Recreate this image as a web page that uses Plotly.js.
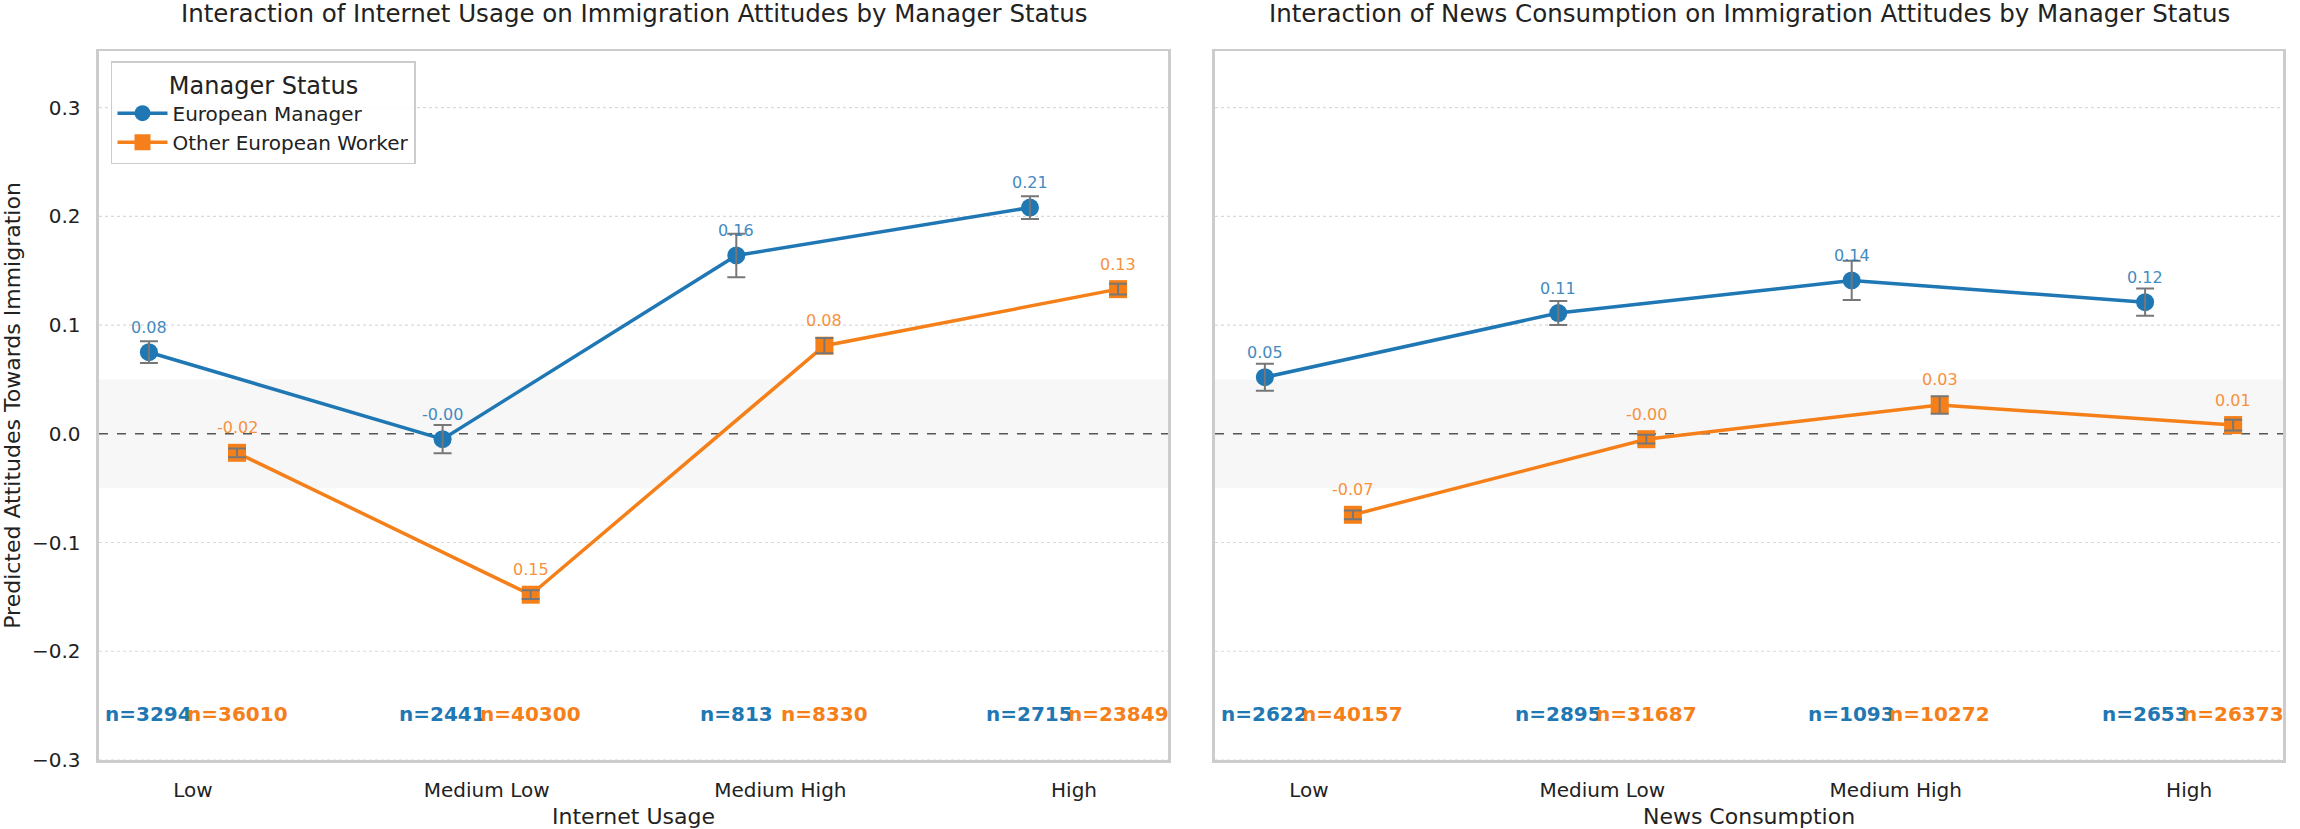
<!DOCTYPE html>
<html>
<head>
<meta charset="utf-8">
<script src="https://cdn.plot.ly/plotly-3.0.1.min.js"></script>
<style>html,body{margin:0;padding:0;background:#fff;}#chart{width:2300px;height:829px;}</style>
</head>
<body>
<div id="chart"></div>
<script>
const categories = ["Low", "Medium Low", "Medium High", "High"];
const seriesNames = ["European Manager", "Other European Worker"];

const internetManager = [0.075, -0.005, 0.164, 0.208];
const internetManagerErr = [0.010, 0.013, 0.020, 0.0105];
const internetManagerLabels = ["0.08", "-0.00", "0.16", "0.21"];
const internetManagerN = [3294, 2441, 813, 2715];

const internetWorker = [-0.0175, -0.148, 0.081, 0.133];
const internetWorkerErr = [0.004, 0.004, 0.007, 0.005];
const internetWorkerLabels = ["-0.02", "0.15", "0.08", "0.13"];
const internetWorkerN = [36010, 40300, 8330, 23849];

const newsManager = [0.052, 0.111, 0.141, 0.121];
const newsManagerErr = [0.0125, 0.011, 0.018, 0.0125];
const newsManagerLabels = ["0.05", "0.11", "0.14", "0.12"];
const newsManagerN = [2622, 2895, 1093, 2653];

const newsWorker = [-0.0745, -0.005, 0.0265, 0.008];
const newsWorkerErr = [0.004, 0.004, 0.008, 0.005];
const newsWorkerLabels = ["-0.07", "-0.00", "0.03", "0.01"];
const newsWorkerN = [40157, 31687, 10272, 26373];

const yTicks = [-0.3, -0.2, -0.1, 0.0, 0.1, 0.2, 0.3];

const BLUE = "#1f77b4";
const ORANGE = "#f5801a";
const FONT = "DejaVu Sans";
const DODGE = 0.15;
const idx = categories.map((c, i) => i);

const panels = [
  {xa: "x", ya: "y", m: internetManager, me: internetManagerErr, ml: internetManagerLabels, mn: internetManagerN,
   w: internetWorker, we: internetWorkerErr, wl: internetWorkerLabels, wn: internetWorkerN, legend: true},
  {xa: "x2", ya: "y2", m: newsManager, me: newsManagerErr, ml: newsManagerLabels, mn: newsManagerN,
   w: newsWorker, we: newsWorkerErr, wl: newsWorkerLabels, wn: newsWorkerN, legend: false}
];

const traces = [];
const annotations = [];

panels.forEach(p => {
  const xm = idx.map(i => i - DODGE);
  const xw = idx.map(i => i + DODGE);
  traces.push({
    type: "scatter", mode: "lines+markers", name: seriesNames[0], legendgroup: "m",
    showlegend: p.legend, x: xm, y: p.m, xaxis: p.xa, yaxis: p.ya,
    line: {color: BLUE, width: 3.5},
    marker: {symbol: "circle", size: 18, color: BLUE}
  });
  traces.push({
    type: "scatter", mode: "lines+markers", name: seriesNames[1], legendgroup: "w",
    showlegend: p.legend, x: xw, y: p.w, xaxis: p.xa, yaxis: p.ya,
    line: {color: ORANGE, width: 3.5},
    marker: {symbol: "square", size: 18, color: ORANGE}
  });
  [[xm, p.m, p.me], [xw, p.w, p.we]].forEach(([xs, ys, es]) => {
    traces.push({
      type: "scatter", mode: "markers", showlegend: false, hoverinfo: "skip",
      x: xs, y: ys, xaxis: p.xa, yaxis: p.ya,
      marker: {size: 1, color: "rgba(0,0,0,0)"},
      error_y: {type: "data", array: es, visible: true, color: "#777777", thickness: 2, width: 9}
    });
  });
  idx.forEach(i => {
    annotations.push({xref: p.xa, yref: p.ya, x: xm[i], y: p.m[i], yshift: 25, text: p.ml[i],
      showarrow: false, font: {family: FONT, size: 16, color: BLUE}, opacity: 0.85});
    annotations.push({xref: p.xa, yref: p.ya, x: xw[i], y: p.w[i], yshift: 25, text: p.wl[i],
      showarrow: false, font: {family: FONT, size: 16, color: ORANGE}, opacity: 0.85});
  });
  idx.forEach(i => {
    annotations.push({xref: p.xa, yref: p.ya, x: xm[i], y: -0.2575, text: "<b>n=" + p.mn[i] + "</b>",
      showarrow: false, font: {family: FONT, size: 20, color: BLUE}});
  });
  idx.forEach(i => {
    annotations.push({xref: p.xa, yref: p.ya, x: xw[i], y: -0.2575, text: "<b>n=" + p.wn[i] + "</b>",
      showarrow: false, font: {family: FONT, size: 20, color: ORANGE}});
  });
});

annotations.push({xref: "x domain", yref: "paper", x: 0.5, y: 0.9843, yanchor: "middle",
  text: "Interaction of Internet Usage on Immigration Attitudes by Manager Status",
  showarrow: false, font: {family: FONT, size: 24.5, color: "#222"}});
annotations.push({xref: "x2 domain", yref: "paper", x: 0.5, y: 0.9843, yanchor: "middle",
  text: "Interaction of News Consumption on Immigration Attitudes by Manager Status",
  showarrow: false, font: {family: FONT, size: 24.5, color: "#222"}});

const shapes = [];
["x", "x2"].forEach((xa, k) => {
  const ya = k === 0 ? "y" : "y2";
  shapes.push({type: "rect", xref: xa + " domain", yref: ya, x0: 0, x1: 1, y0: -0.05, y1: 0.05,
    fillcolor: "#f7f7f7", line: {width: 0}, layer: "below"});
  yTicks.filter(v => v !== 0).forEach(v => {
    shapes.push({type: "line", xref: xa + " domain", yref: ya, x0: 0, x1: 1, y0: v, y1: v,
      line: {color: "#d9d9d9", width: 1.2, dash: "dot"}, layer: "below"});
  });
  shapes.push({type: "line", xref: xa + " domain", yref: ya, x0: 0, x1: 1, y0: 0, y1: 0,
    line: {color: "#555", width: 1.5, dash: "dash"}, layer: "below"});
});

const xCommon = {
  range: [-0.32, 3.32], tickvals: idx, ticktext: categories, showgrid: false, zeroline: false,
  showline: true, mirror: true, linecolor: "#cccccc", linewidth: 2.5,
  tickfont: {family: FONT, size: 20, color: "#222"}, ticks: "", ticklabelstandoff: 10,
  fixedrange: true
};
const yCommon = {
  range: [-0.3, 0.352], tickvals: yTicks, tickformat: ".1f", showgrid: false,
  zeroline: false, showline: true, mirror: true,
  linecolor: "#cccccc", linewidth: 2.5, ticks: "", fixedrange: true,
  tickfont: {family: FONT, size: 20, color: "#222"}, ticklabelstandoff: 12
};

const layout = {
  width: 2300, height: 829,
  margin: {l: 0, r: 0, t: 0, b: 0},
  paper_bgcolor: "#fff", plot_bgcolor: "#fff",
  font: {family: FONT, color: "#222"},
  showlegend: true,
  xaxis: Object.assign({}, xCommon, {domain: [0.04304, 0.50783], anchor: "y",
    title: {text: "Internet Usage", font: {family: FONT, size: 22, color: "#222"}, standoff: 8}}),
  xaxis2: Object.assign({}, xCommon, {domain: [0.52826, 0.99261], anchor: "y2",
    title: {text: "News Consumption", font: {family: FONT, size: 22, color: "#222"}, standoff: 8}}),
  yaxis: Object.assign({}, yCommon, {domain: [0.08323, 0.93848], anchor: "x",
    title: {text: "Predicted Attitudes Towards Immigration", font: {family: FONT, size: 22, color: "#222"}, standoff: 8}}),
  yaxis2: Object.assign({}, yCommon, {domain: [0.08323, 0.93848], anchor: "x2", matches: "y", showticklabels: false}),
  legend: {
    x: 0.04826, y: 0.9264, xanchor: "left", yanchor: "top",
    bgcolor: "rgba(255,255,255,0.85)", bordercolor: "#cccccc", borderwidth: 1.5,
    font: {family: FONT, size: 20, color: "#222"},
    title: {text: "Manager Status", side: "top center", font: {family: FONT, size: 24, color: "#222"}},
    itemwidth: 50, tracegroupgap: 0
  },
  annotations: annotations,
  shapes: shapes
};

Plotly.newPlot("chart", traces, layout, {displayModeBar: false, staticPlot: true});
</script>
</body>
</html>
